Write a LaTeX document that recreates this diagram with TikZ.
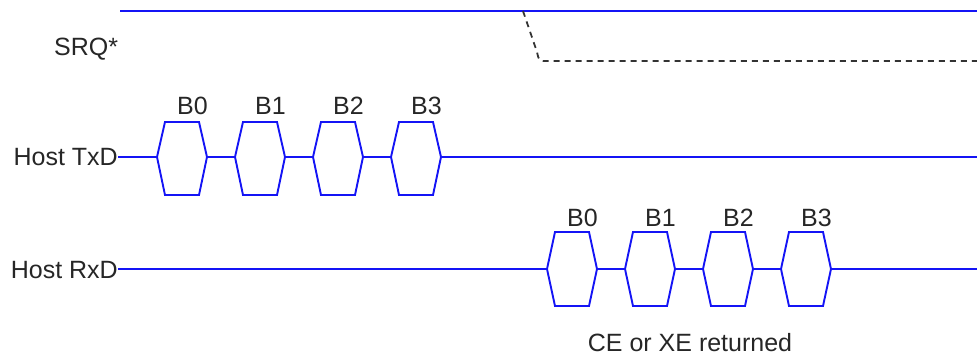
\documentclass[tikz,border=0pt]{standalone}
\usepackage{fontspec}
\setmainfont{Liberation Sans}
\usepackage{tikz}
\usepackage{xcolor}
\usetikzlibrary{positioning, calc}
\definecolor{wire}{RGB}{20, 20, 245}

\begin{document}
\begin{tikzpicture}[x=1pt, y=-1pt,
    sig/.style={wire, line width=1.9pt, line join=miter},
    srqdash/.style={black!80, line width=1.8pt, dash pattern=on 6pt off 5pt},
    lbl/.style={font=\fontsize{25}{25}\selectfont, text=black!85, inner sep=0pt}]
    \useasboundingbox (0,0) rectangle (977,358);

    % Signal names
    \node[lbl, anchor=base west] (srq) at (54,56) {SRQ*};
    \node[lbl, anchor=base east] (txd) at (118,166) {Host TxD};
    \node[lbl, anchor=base east] (rxd) at (118,278) {Host RxD};

    % SRQ* line
    \coordinate (srqstart) at (120,11);
    \coordinate (srqend) at (977,11);
    \coordinate (srqfall) at (523,11);
    \coordinate (srqlow) at (977,61);
    \draw[sig] (srqstart) -- (srqend);
    \draw[srqdash] (srqfall) -- (537,52) .. controls (539,61) .. (546,61) -- (srqlow);

    % Bytes sent by the host
    \foreach \i in {0,...,3} {
        \coordinate (tx\i) at (182+78*\i,157);
        \draw[sig] (tx\i) ++(-25,0) coordinate (tx\i w) -- ++(8,-35) -- ++(34,0)
            -- ++(8,35) coordinate (tx\i e) -- ++(-8,38) -- ++(-34,0) -- cycle;
        \node[lbl, anchor=base west] (txb\i) at (177+78*\i,115) {B\i};
    }

    % Bytes returned to the host
    \foreach \i in {0,...,3} {
        \coordinate (rx\i) at (572+78*\i,269);
        \draw[sig] (rx\i) ++(-25,0) coordinate (rx\i w) -- ++(8,-37) -- ++(34,0)
            -- ++(8,37) coordinate (rx\i e) -- ++(-8,37) -- ++(-34,0) -- cycle;
        \node[lbl, anchor=base west] (rxb\i) at (567+78*\i,226) {B\i};
    }

    % Lines between bytes
    \coordinate (txend) at (977,157);
    \coordinate (rxend) at (977,269);
    \draw[sig] (txd.east |- tx0w) -- (tx0w);
    \draw[sig] (rxd.east |- rx0w) -- (rx0w);
    \foreach \i/\j in {0/1,1/2,2/3} {
        \draw[sig] (tx\i e) -- (tx\j w);
        \draw[sig] (rx\i e) -- (rx\j w);
    }
    \draw[sig] (tx3e) -- (txend);
    \draw[sig] (rx3e) -- (rxend);

    % Note
    \node[lbl, anchor=base] (note) at (690,351) {CE or XE returned};
\end{tikzpicture}
\end{document}
